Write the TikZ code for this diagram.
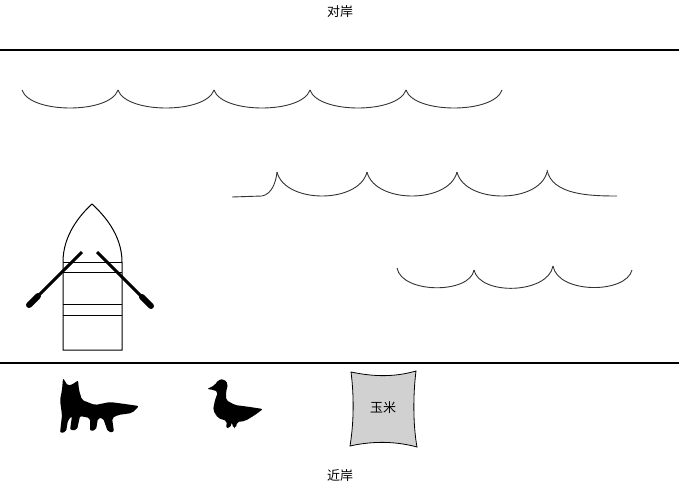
\documentclass[tikz,border=0pt]{standalone}
\usepackage{fontspec}
\setmainfont{Noto Sans CJK SC}
\begin{document}
\begin{tikzpicture}[x=1pt,y=-1pt,
  wave/.style={line width=0.9pt,black!80},
  shore/.style={line width=1.2pt},
  boatline/.style={line width=1pt},
  lbl/.style={font=\fontsize{13}{15}\selectfont}]
\useasboundingbox (0,0) rectangle (679,488);
\node[lbl] (far) at (340,12) {对岸};
\node[lbl] (near) at (340,476) {近岸};
\draw[shore] (0,50) -- (679,50);
\draw[shore] (0,363) -- (679,363);
% waves row 1
\foreach \a in {22,118,214,310,406}{
  \draw[wave] (\a,90) .. controls (\a+8,114) and (\a+88,114) .. (\a+96,90);}
% row 2
\draw[wave] (232,197) -- (262,196) .. controls (272,194) and (276,182) .. (277,172);
\foreach \a/\b in {277/367,367/457,457/547}{
  \draw[wave] (\a,172) .. controls (\a+8,204) and (\b-8,204) .. (\b,172);}
\draw[wave] (547,170) .. controls (552,195) and (590,196) .. (617,196);
% row 3
\draw[wave] (397,268) .. controls (402,294) and (470,294) .. (474,270);
\draw[wave] (474,270) .. controls (480,296) and (548,294) .. (553,266);
\draw[wave] (553,266) .. controls (558,294) and (626,294) .. (632,270);
% boat
\draw[boatline] (63,350) -- (63,262) .. controls (63,235) and (80,215) .. (92,204)
  .. controls (104,215) and (122,235) .. (122,262) -- (122,350) -- cycle;
\foreach \yy in {262,272,304,315}{\draw[boatline] (63,\yy) -- (122,\yy);}
\draw[line width=3pt] (82,252) -- (36,298);
\draw[line width=6pt,line cap=round] (38,296) -- (29,305);
\draw[line width=3pt] (97,252) -- (144,299);
\draw[line width=6pt,line cap=round] (142,297) -- (151,306);
% fox
\fill[rounded corners=2pt] (63,378) -- (68,386) -- (75,383) -- (78,380) -- (79,390) -- (82,400)
 -- (95,405) -- (110,402) -- (125,404) -- (139,406) -- (132,413) -- (118,415) -- (112,418)
 -- (114,432) -- (108,432) -- (103,418) -- (98,418) -- (96,430) -- (90,431) -- (90,418)
 -- (80,416) -- (77,430) -- (70,430) -- (72,416) -- (68,420) -- (66,432) -- (60,433)
 -- (62,415) -- (60,400) -- (62,390) -- cycle;
% duck
\fill[rounded corners=2pt] (207,389) -- (215,385) -- (218,380) -- (224,379) -- (228,384)
 -- (226,392) -- (226,400) -- (235,405) -- (250,407) -- (263,409) -- (255,415) -- (245,421)
 -- (237,422) -- (236,428) -- (233,428) -- (232,422) -- (230,428) -- (226,428) -- (227,421)
 -- (218,418) -- (213,410) -- (215,400) -- (218,392) -- (214,390) -- cycle;
% corn bag
\draw[fill=black!18,line width=0.8pt] (351,372) .. controls (375,377) and (395,377) .. (416,371)
  .. controls (413,395) and (413,425) .. (417,447)
  .. controls (395,441) and (372,441) .. (350,446)
  .. controls (354,422) and (354,395) .. (351,372) -- cycle;
\node[lbl] (corn) at (383,408) {玉米};
\end{tikzpicture}
\end{document}
